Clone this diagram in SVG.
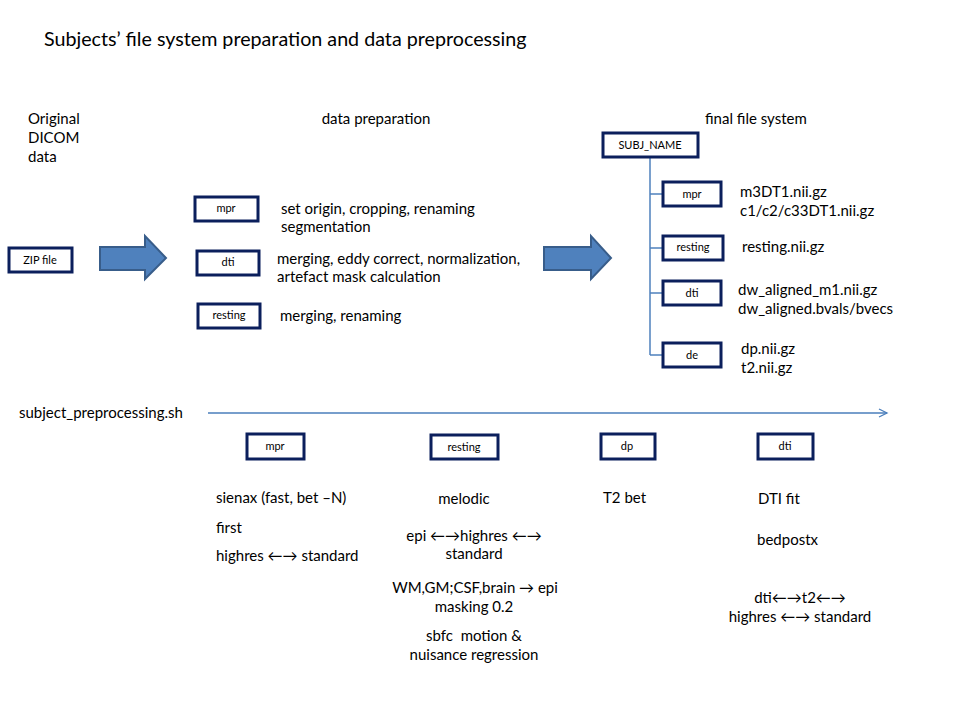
<svg xmlns="http://www.w3.org/2000/svg" width="960" height="720" viewBox="0 0 960 720">
<defs>
<style>
text{font-family:Lato,"Liberation Sans",sans-serif;fill:#000;}
.t{font-size:15px;}
.b{font-size:11px;}
.m{text-anchor:middle;}
.box{fill:#fff;stroke:#0b1f5c;stroke-width:3;}
.blk{fill:#4f81bd;stroke:#385d8a;stroke-width:2;}
.tree{stroke:#4f81bd;stroke-width:1.5;fill:none;}
</style>
<marker id="open" markerWidth="12" markerHeight="12" refX="9" refY="5" orient="auto" markerUnits="userSpaceOnUse">
<path d="M1,1 L9,5 L1,9" fill="none" stroke="#4a7ebb" stroke-width="1.3"/>
</marker>
</defs>
<rect width="960" height="720" fill="#fff"/>
<text x="44" y="46" style="font-size:19.7px">Subjects’ file system preparation and data preprocessing</text>

<text class="t" x="28" y="124">Original</text>
<text class="t" x="28" y="143">DICOM</text>
<text class="t" x="28" y="162">data</text>
<text class="t m" x="376" y="124">data preparation</text>
<text class="t" x="705" y="124">final file system</text>

<g id="connectors">
<path class="blk" d="M100,247 L145,247 L145,236 L166,258 L145,279 L145,270 L100,270 Z"/>
<path class="blk" d="M544,247 L591,247 L591,236 L611,258 L591,279 L591,270 L544,270 Z"/>
<path class="tree" d="M650,157 V355 M650,194 H663 M650,248 H663 M650,293 H663 M650,355 H663"/>
<line x1="208" y1="413" x2="887" y2="413" stroke="#4a7ebb" stroke-width="1.3" marker-end="url(#open)"/>
</g>

<g id="zip"><rect class="box" x="9" y="248" width="63" height="24"/><text class="b m" x="40" y="264">ZIP file</text></g>
<g id="prep-mpr"><rect class="box" x="195" y="197" width="63" height="24"/><text class="b m" x="226" y="212">mpr</text>
<text class="t" x="281" y="214">set origin, cropping, renaming</text><text class="t" x="281" y="232">segmentation</text></g>
<g id="prep-dti"><rect class="box" x="197" y="251" width="62" height="24"/><text class="b m" x="228" y="266">dti</text>
<text class="t" x="277" y="264">merging, eddy correct, normalization,</text><text class="t" x="277" y="282">artefact mask calculation</text></g>
<g id="prep-resting"><rect class="box" x="198" y="304" width="62" height="24"/><text class="b m" x="229" y="319">resting</text>
<text class="t" x="280" y="321">merging, renaming</text></g>

<g id="subj"><rect class="box" x="603" y="133" width="95" height="24"/><text class="b m" x="650" y="149">SUBJ_NAME</text></g>
<g id="fs-mpr"><rect class="box" x="663" y="182" width="58" height="24"/><text class="b m" x="692" y="198">mpr</text>
<text class="t" x="740" y="197">m3DT1.nii.gz</text><text class="t" x="740" y="216">c1/c2/c33DT1.nii.gz</text></g>
<g id="fs-resting"><rect class="box" x="663" y="236" width="60" height="24"/><text class="b m" x="693" y="251">resting</text>
<text class="t" x="742" y="252">resting.nii.gz</text></g>
<g id="fs-dti"><rect class="box" x="663" y="281" width="58" height="24"/><text class="b m" x="692" y="297">dti</text>
<text class="t" x="738" y="295">dw_aligned_m1.nii.gz</text><text class="t" x="738" y="314">dw_aligned.bvals/bvecs</text></g>
<g id="fs-de"><rect class="box" x="663" y="343" width="58" height="24"/><text class="b m" x="692" y="359">de</text>
<text class="t" x="741" y="354">dp.nii.gz</text><text class="t" x="741" y="373">t2.nii.gz</text></g>

<text class="t" x="19" y="418">subject_preprocessing.sh</text>

<g id="pp-mpr"><rect class="box" x="247" y="434" width="57" height="25"/><text class="b m" x="275" y="450">mpr</text>
<text class="t" x="216" y="503">sienax (fast, bet –N)</text>
<text class="t" x="216" y="533">first</text>
<text class="t" x="216" y="561">highres ←→ standard</text></g>
<g id="pp-resting"><rect class="box" x="431" y="435" width="67" height="24"/><text class="b m" x="464" y="451">resting</text>
<text class="t m" x="464" y="504">melodic</text>
<text class="t m" x="474" y="541">epi ←→highres ←→</text>
<text class="t m" x="474" y="559">standard</text>
<text class="t m" x="475" y="593">WM,GM;CSF,brain → epi</text>
<text class="t m" x="474" y="612">masking 0.2</text>
<text class="t m" x="474" y="641">sbfc&#160; motion &amp;</text>
<text class="t m" x="474" y="660">nuisance regression</text></g>
<g id="pp-dp"><rect class="box" x="601" y="434" width="54" height="25"/><text class="b m" x="627" y="450">dp</text>
<text class="t" x="603" y="503">T2 bet</text></g>
<g id="pp-dti"><rect class="box" x="758" y="434" width="55" height="25"/><text class="b m" x="785" y="450">dti</text>
<text class="t" x="758" y="504">DTI fit</text>
<text class="t" x="757" y="545">bedpostx</text>
<text class="t m" x="800" y="603">dti←→t2←→</text>
<text class="t m" x="800" y="622">highres ←→ standard</text></g>
</svg>
